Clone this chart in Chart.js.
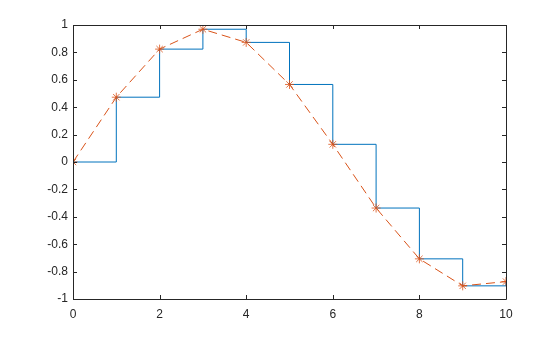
<!DOCTYPE html>
<html>
<head>
<meta charset="utf-8">
<script src="https://cdn.jsdelivr.net/npm/chart.js@4"></script>
<style>
  html, body { margin: 0; padding: 0; background: #fff; }
  #wrap { width: 560px; height: 337px; }
</style>
</head>
<body>
<div id="wrap"><canvas id="chart"></canvas></div>
<script>
// data
const xs = [0, 1, 2, 3, 4, 5, 6, 7, 8, 9, 10];
const ys = [0, 0.473, 0.824, 0.969, 0.873, 0.566, 0.129, -0.336, -0.707, -0.904, -0.873];
const xTicks = [0, 2, 4, 6, 8, 10];
const yTicks = [-1, -0.8, -0.6, -0.4, -0.2, 0, 0.2, 0.4, 0.6, 0.8, 1];

const pts = xs.map((x, i) => ({ x: x, y: ys[i] }));
const axisColor = '#262626';
const tickFont = { family: 'Liberation Sans, Helvetica, Arial', size: 12 };

// box around the plot with ticks pointing inward
const boxPlugin = {
  id: 'box',
  afterDraw(chart) {
    const { ctx, chartArea: a, scales } = chart;
    ctx.save();
    ctx.strokeStyle = axisColor;
    ctx.lineWidth = 1;
    ctx.beginPath();
    ctx.rect(Math.round(a.left) + 0.5, Math.round(a.top) + 0.5,
      Math.round(a.right - a.left), Math.round(a.bottom - a.top));
    const len = 4;
    xTicks.forEach(v => {
      const px = Math.round(scales.x.getPixelForValue(v)) + 0.5;
      ctx.moveTo(px, a.bottom); ctx.lineTo(px, a.bottom - len);
      ctx.moveTo(px, a.top); ctx.lineTo(px, a.top + len);
    });
    yTicks.forEach(v => {
      const py = Math.round(scales.y.getPixelForValue(v)) + 0.5;
      ctx.moveTo(a.left, py); ctx.lineTo(a.left + len, py);
      ctx.moveTo(a.right, py); ctx.lineTo(a.right - len, py);
    });
    ctx.stroke();
    ctx.restore();
  }
};

new Chart(document.getElementById('chart'), {
  type: 'line',
  data: {
    datasets: [
      {
        data: pts,
        order: 2,
        borderColor: '#0072BD',
        borderWidth: 1,
        stepped: 'before',
        pointRadius: 0,
        fill: false
      },
      {
        data: pts,
        order: 1,
        borderColor: '#D95319',
        borderWidth: 1,
        borderDash: [9, 5],
        pointStyle: 'star',
        pointRadius: 4.5,
        pointBorderColor: 'rgba(217,83,25,0.8)',
        pointBorderWidth: 1,
        tension: 0,
        fill: false
      }
    ]
  },
  options: {
    responsive: true,
    maintainAspectRatio: false,
    animation: false,
    events: [],
    layout: { padding: { left: 0, top: 25, right: 54, bottom: 0 } },
    plugins: { legend: { display: false }, tooltip: { enabled: false } },
    scales: {
      x: {
        type: 'linear',
        min: 0, max: 10,
        afterBuildTicks: s => { s.ticks = xTicks.map(v => ({ value: v })); },
        afterFit: s => { s.height = 38; },
        grid: { display: false, drawTicks: false },
        border: { display: false },
        ticks: {
          padding: 8,
          color: axisColor,
          font: tickFont,
          maxRotation: 0,
          callback: v => String(v)
        }
      },
      y: {
        min: -1, max: 1,
        afterBuildTicks: s => { s.ticks = yTicks.map(v => ({ value: v })); },
        afterFit: s => { s.width = 73; },
        grid: { display: false, drawTicks: false },
        border: { display: false },
        ticks: {
          padding: 5,
          color: axisColor,
          font: tickFont,
          callback: v => String(Math.round(v * 10) / 10)
        }
      }
    }
  },
  plugins: [boxPlugin]
});
</script>
</body>
</html>
